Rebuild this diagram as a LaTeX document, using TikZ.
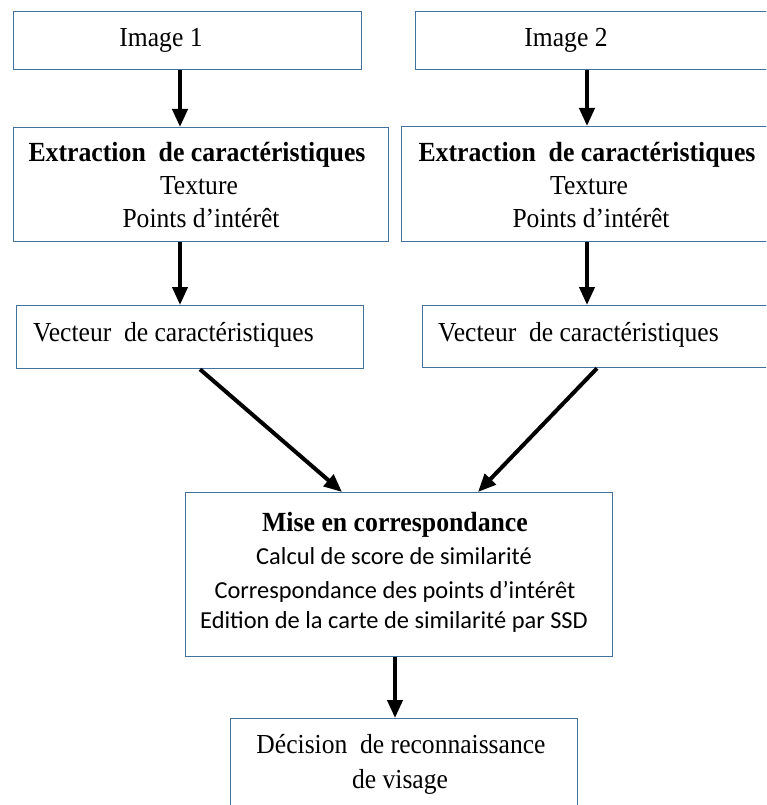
\documentclass[tikz,border=0pt]{standalone}
\usepackage{fontspec}
\setmainfont[FakeStretch=0.93]{Liberation Serif}
\newfontfamily\calib{Carlito}
\usetikzlibrary{arrows.meta}
\definecolor{boxblue}{HTML}{41719C}
\begin{document}
\begin{tikzpicture}[x=1pt,y=-1pt,
  box/.style={draw=boxblue,line width=1.3pt,fill=white,inner sep=0pt,anchor=north west},
  arr/.style={line width=4pt,-{Triangle[width=15pt,length=18pt]}},
  ser/.style={font=\fontsize{27.5}{30}\selectfont,inner sep=0pt,anchor=base},
  serl/.style={font=\fontsize{27.5}{30}\selectfont,inner sep=0pt,anchor=base west},
  serb/.style={font=\fontsize{27.7}{30}\selectfont\bfseries,inner sep=0pt,anchor=base},
  cal/.style={font=\calib\fontsize{24.4}{29}\selectfont,inner sep=0pt,anchor=base}]
\clip (0,0) rectangle (766,805);
\fill[white] (0,0) rectangle (766,805);
% boxes
\node[box,minimum width=348pt,minimum height=58pt] (im1) at (13,11) {};
\node[box,minimum width=365pt,minimum height=58pt] (im2) at (415,11) {};
\node[box,minimum width=375pt,minimum height=114pt] (ex1) at (13,127) {};
\node[box,minimum width=379pt,minimum height=115pt] (ex2) at (401,126) {};
\node[box,minimum width=347pt,minimum height=63pt] (ve1) at (16,305) {};
\node[box,minimum width=358pt,minimum height=62pt] (ve2) at (422,305) {};
\node[box,minimum width=427pt,minimum height=164pt] (mise) at (185,492) {};
\node[box,minimum width=347pt,minimum height=100pt] (dec) at (230,718) {};
% texts
\node[ser] (t1) at (161,47) {Image 1};
\node[ser] (t2) at (566,47) {Image 2};
\node[serb] (e1a) at (197,162) {Extraction\ \ de caractéristiques};
\node[ser] (e1b) at (199,194) {Texture};
\node[ser] (e1c) at (201,227) {Points d’intérêt};
\node[serb] (e2a) at (587,162) {Extraction\ \ de caractéristiques};
\node[ser] (e2b) at (589,194) {Texture};
\node[ser] (e2c) at (591,227) {Points d’intérêt};
\node[serl] (v1) at (33,341) {Vecteur\ \ de caractéristiques};
\node[serl] (v2) at (438,341) {Vecteur\ \ de caractéristiques};
\node[serb] (m1) at (395,531) {Mise en correspondance};
\node[cal] (m2) at (394,564) {Calcul de score de similarité};
\node[cal] (m3) at (395,598) {Correspondance des points d’intérêt};
\node[cal] (m4) at (394,628) {Edition de la carte de similarité par SSD};
\node[ser] (d1) at (401,753) {Décision\ \ de reconnaissance};
\node[ser] (d2) at (400,788) {de visage};
% arrow x positions
\coordinate (xa) at (180,0);
\coordinate (xb) at (587,0);
\coordinate (xc) at (200,0);
\coordinate (xd) at (342,0);
\coordinate (xe) at (597,0);
\coordinate (xf) at (478,0);
\coordinate (xg) at (395,0);
% connectors
\draw[arr] (im1.south -| xa) -- (ex1.north -| xa);
\draw[arr] (ex1.south -| xa) -- (ve1.north -| xa);
\draw[arr] (im2.south -| xb) -- (ex2.north -| xb);
\draw[arr] (ex2.south -| xb) -- (ve2.north -| xb);
\draw[arr] (ve1.south -| xc) -- (mise.north -| xd);
\draw[arr] (ve2.south -| xe) -- (mise.north -| xf);
\draw[arr] (mise.south -| xg) -- (dec.north -| xg);
\end{tikzpicture}
\end{document}
